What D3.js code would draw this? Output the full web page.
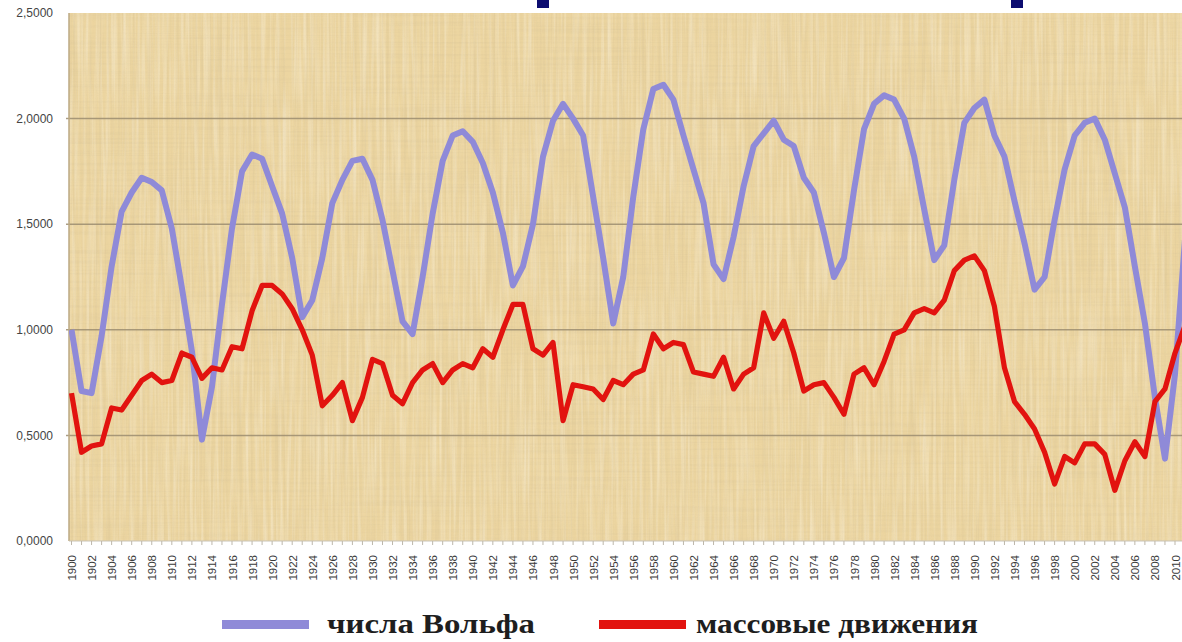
<!DOCTYPE html>
<html>
<head>
<meta charset="utf-8">
<script src="https://d3js.org/d3.v7.min.js"></script>
<style>
  body { margin: 0; background: #fff; }
  svg { display: block; }
  .ylab { font: 12px "Liberation Sans", Arial, sans-serif; fill: #444; }
  .xlab { font: 11.5px "Liberation Sans", Arial, sans-serif; fill: #3a3a3a; }
  .leg { font-family: "Liberation Serif", "Times New Roman", serif; font-weight: bold; font-size: 28px; fill: #1e1e1e; }
</style>
</head>
<body>
<svg width="1182" height="642"></svg>
<script>
// years 1900..2011 (last point runs off the right edge)
var years = d3.range(1900, 2012);

var wolf = [
  1.00, 0.71, 0.70, 0.97, 1.30, 1.56, 1.65, 1.72, 1.70, 1.66,
  1.48, 1.20, 0.90, 0.48, 0.73, 1.12, 1.48, 1.75, 1.83, 1.81,
  1.68, 1.55, 1.34, 1.06, 1.14, 1.34, 1.60, 1.71, 1.80, 1.81,
  1.71, 1.52, 1.28, 1.04, 0.98, 1.25, 1.55, 1.80, 1.92, 1.94,
  1.89, 1.79, 1.65, 1.46, 1.21, 1.30, 1.50, 1.82, 1.99, 2.07,
  2.00, 1.92, 1.63, 1.34, 1.03, 1.25, 1.63, 1.95, 2.14, 2.16,
  2.09, 1.92, 1.76, 1.60, 1.31, 1.24, 1.44, 1.68, 1.87, 1.93,
  1.99, 1.90, 1.87, 1.72, 1.65, 1.46, 1.25, 1.34, 1.66, 1.95,
  2.07, 2.11, 2.09, 2.00, 1.82, 1.57, 1.33, 1.40, 1.71, 1.98,
  2.05, 2.09, 1.92, 1.82, 1.61, 1.41, 1.19, 1.25, 1.52, 1.76,
  1.92, 1.98, 2.00, 1.90, 1.74, 1.58, 1.30, 1.03, 0.68, 0.39,
  0.79, 1.43
];

var mass = [
  0.70, 0.42, 0.45, 0.46, 0.63, 0.62, 0.69, 0.76, 0.79, 0.75,
  0.76, 0.89, 0.87, 0.77, 0.82, 0.81, 0.92, 0.91, 1.09, 1.21,
  1.21, 1.17, 1.10, 1.00, 0.88, 0.64, 0.69, 0.75, 0.57, 0.68,
  0.86, 0.84, 0.69, 0.65, 0.75, 0.81, 0.84, 0.75, 0.81, 0.84,
  0.82, 0.91, 0.87, 1.00, 1.12, 1.12, 0.91, 0.88, 0.94, 0.57,
  0.74, 0.73, 0.72, 0.67, 0.76, 0.74, 0.79, 0.81, 0.98, 0.91,
  0.94, 0.93, 0.80, 0.79, 0.78, 0.87, 0.72, 0.79, 0.82, 1.08,
  0.96, 1.04, 0.89, 0.71, 0.74, 0.75, 0.68, 0.60, 0.79, 0.82,
  0.74, 0.85, 0.98, 1.00, 1.08, 1.10, 1.08, 1.14, 1.28, 1.33,
  1.35, 1.28, 1.11, 0.82, 0.66, 0.60, 0.53, 0.42, 0.27, 0.40,
  0.37, 0.46, 0.46, 0.41, 0.24, 0.38, 0.47, 0.40, 0.66, 0.72,
  0.89, 1.02
];

var yTicks = [0, 0.5, 1.0, 1.5, 2.0, 2.5];
var xLabels = d3.range(1900, 2011, 2);

var seriesNames = ["числа Вольфа", "массовые движения"];
var seriesColors = ["#8f8ad8", "#e2130f"];

var svg = d3.select("svg");
var plot = {left: 69, right: 1182, top: 13, bottom: 541};

var x = d3.scaleLinear().domain([1900, 2010]).range([71.5, 1175]);
var y = d3.scaleLinear().domain([0, 2.5]).range([plot.bottom, plot.top]);

var defs = svg.append("defs");
defs.append("clipPath").attr("id", "clip")
  .append("rect")
    .attr("x", plot.left).attr("y", plot.top)
    .attr("width", plot.right - plot.left).attr("height", plot.bottom - plot.top);

// papyrus-like fibres: streaks of darker and lighter colour
function fibreFilter(id, freq, seed, rgb, gain, shift) {
  var f = defs.append("filter").attr("id", id)
    .attr("x", 0).attr("y", 0).attr("width", "100%").attr("height", "100%");
  f.append("feTurbulence")
    .attr("type", "fractalNoise").attr("baseFrequency", freq)
    .attr("numOctaves", 2).attr("seed", seed);
  f.append("feColorMatrix").attr("type", "matrix")
    .attr("values", "0 0 0 0 " + rgb[0] + "  0 0 0 0 " + rgb[1] + "  0 0 0 0 " + rgb[2] +
      "  " + gain + " 0 0 0 " + shift);
}
fibreFilter("fibV", "0.45 0.006", 3, [0.66, 0.53, 0.30], 2.0, -0.85);
fibreFilter("fibH", "0.006 0.45", 7, [0.66, 0.53, 0.30], 2.0, -0.85);
fibreFilter("fibL", "0.3 0.01", 19, [0.98, 0.93, 0.80], 2.2, -0.9);
fibreFilter("fibS", "0.9 0.9", 11, [0.70, 0.58, 0.36], 1.4, -0.78);

var bg = svg.append("g").attr("clip-path", "url(#clip)");
bg.append("rect")
  .attr("x", plot.left).attr("y", plot.top)
  .attr("width", plot.right - plot.left).attr("height", plot.bottom - plot.top)
  .attr("fill", "#ecd5a0");
[["fibV", 0.4], ["fibH", 0.3], ["fibL", 0.4], ["fibS", 0.25]].forEach(function(f) {
  bg.append("rect")
    .attr("x", plot.left).attr("y", plot.top)
    .attr("width", plot.right - plot.left).attr("height", plot.bottom - plot.top)
    .attr("filter", "url(#" + f[0] + ")")
    .attr("opacity", f[1]);
});

// cropped title remnants at the very top
svg.selectAll("rect.title").data([537, 1011]).enter().append("rect")
  .attr("class", "title")
  .attr("x", function(d) { return d; }).attr("y", 0)
  .attr("width", 12).attr("height", 8)
  .attr("fill", "#0c0c70");

// gridlines
svg.append("g").selectAll("line").data(yTicks.filter(function(d) { return d > 0 && d < 2.5; }))
  .enter().append("line")
    .attr("x1", plot.left - 3).attr("x2", plot.right)
    .attr("y1", function(d) { return y(d); }).attr("y2", function(d) { return y(d); })
    .attr("stroke", "#9c8d70").attr("stroke-width", 1.5).attr("opacity", 0.85);

// left plot edge and bottom axis
svg.append("line")
  .attr("x1", plot.left).attr("x2", plot.left)
  .attr("y1", plot.top).attr("y2", plot.bottom)
  .attr("stroke", "#bba883").attr("stroke-width", 1.5);

var xAxis = svg.append("g").attr("transform", "translate(0," + plot.bottom + ")");
xAxis.append("line").attr("x1", plot.left).attr("x2", plot.right)
  .attr("stroke", "#c9c3b6").attr("stroke-width", 1.2);
xAxis.selectAll("line.tk").data(years.slice(0, 111)).enter().append("line")
  .attr("class", "tk")
  .attr("x1", function(d) { return x(d); }).attr("x2", function(d) { return x(d); })
  .attr("y1", 0).attr("y2", 4)
  .attr("stroke", "#bdb7aa");

xAxis.selectAll("text").data(xLabels).enter().append("text")
  .attr("class", "xlab")
  .attr("transform", function(d) { return "translate(" + (x(d) + 0.5) + ",14) rotate(-90)"; })
  .attr("text-anchor", "end")
  .attr("dy", "0.35em")
  .text(function(d) { return d; });

// y labels
svg.append("g").selectAll("text").data(yTicks).enter().append("text")
  .attr("class", "ylab")
  .attr("x", 53).attr("y", function(d) { return y(d); })
  .attr("dy", "0.35em").attr("text-anchor", "end")
  .text(function(d) { return d3.format(".4f")(d).replace(".", ","); });

// series lines
var line = d3.line()
  .x(function(d) { return x(d[0]); })
  .y(function(d) { return y(d[1]); });

var lines = svg.append("g").attr("clip-path", "url(#clip)");
[wolf, mass].forEach(function(vals, i) {
  lines.append("path")
    .datum(years.map(function(yr, j) { return [yr, vals[j]]; }))
    .attr("d", line)
    .attr("fill", "none")
    .attr("stroke", seriesColors[i])
    .attr("stroke-width", i == 0 ? 6 : 5.2)
    .attr("stroke-linejoin", "round");
});

// legend
var legend = [
  {sx: 222, sw: 87, tx: 327, tw: 208},
  {sx: 599, sw: 87, tx: 696, tw: 282}
];
legend.forEach(function(l, i) {
  svg.append("rect")
    .attr("x", l.sx).attr("y", 620).attr("width", l.sw).attr("height", 9)
    .attr("fill", seriesColors[i]);
  svg.append("text")
    .attr("class", "leg")
    .attr("x", l.tx).attr("y", 633)
    .attr("textLength", l.tw).attr("lengthAdjust", "spacingAndGlyphs")
    .text(seriesNames[i]);
});
</script>
</body>
</html>
